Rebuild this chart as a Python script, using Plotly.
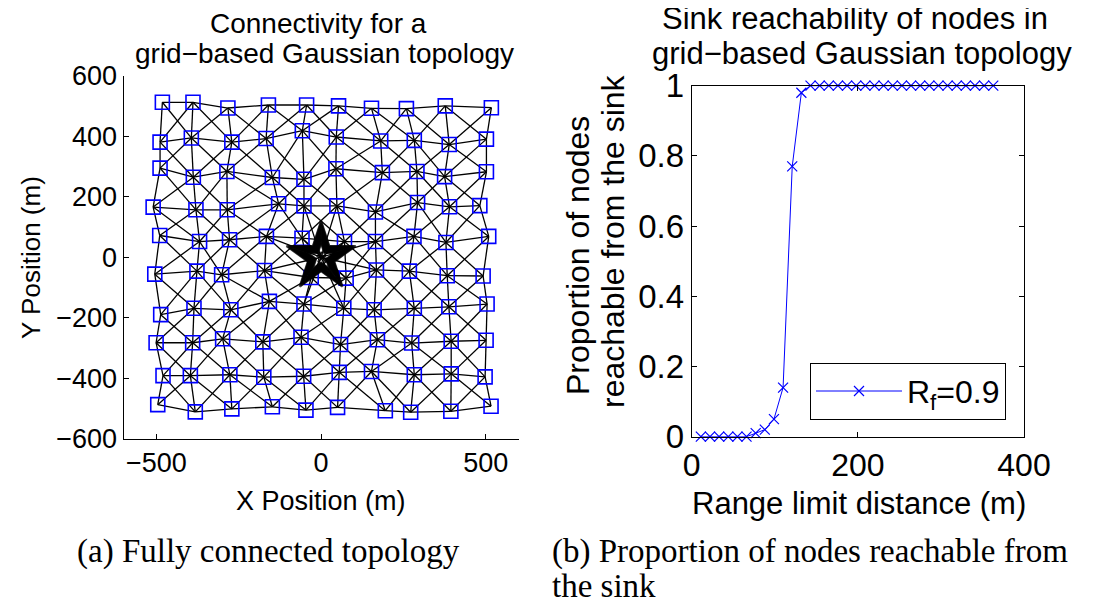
import plotly.graph_objects as go

# ---------------- data: left panel (node positions, rows top->bottom) -------------
NODE_X = [
    [-482, -389, -283, -160, -44, 53, 153, 259, 377, 517],
    [-489, -394, -271, -167, -57, 46, 181, 283, 389, 502],
    [-489, -388, -286, -148, -52, 45, 186, 291, 375, 502],
    [-510, -380, -285, -129, -52, 48, 165, 293, 390, 482],
    [-490, -369, -278, -166, -58, 71, 165, 282, 379, 509],
    [-505, -377, -302, -172, -30, 76, 168, 268, 383, 492],
    [-487, -386, -274, -157, -52, 69, 161, 283, 388, 504],
    [-501, -390, -299, -177, -61, 59, 171, 275, 395, 501],
    [-480, -397, -277, -174, -53, 55, 153, 283, 395, 498],
    [-496, -382, -271, -148, -46, 50, 195, 272, 394, 516],
]
NODE_Y = [
    [513, 513, 494, 504, 504, 501, 493, 492, 501, 495],
    [381, 395, 381, 393, 419, 398, 385, 387, 373, 391],
    [295, 265, 284, 264, 258, 293, 280, 284, 267, 283],
    [166, 157, 157, 177, 170, 170, 150, 181, 167, 171],
    [72, 52, 58, 69, 63, 52, 52, 69, 49, 69],
    [-56, -46, -58, -44, -67, -69, -42, -46, -61, -62],
    [-190, -169, -174, -146, -155, -169, -174, -169, -164, -155],
    [-283, -283, -270, -280, -265, -289, -273, -284, -278, -275],
    [-392, -392, -389, -397, -394, -381, -378, -389, -386, -396],
    [-488, -512, -502, -495, -506, -497, -508, -513, -510, -493],
]
SINK_X = [0]
SINK_Y = [0]
SINK_LINK_RANGE = 185  # m, links drawn from the sink

LEFT_XTICKS = [-500, 0, 500]
LEFT_YTICKS = [-600, -400, -200, 0, 200, 400, 600]

# ---------------- data: right panel -------------
RANGE_LIMIT = [11, 22, 33, 44, 55, 66, 77, 88, 99, 110, 121, 132, 143, 154, 165,
               176, 187, 198, 209, 220, 231, 242, 253, 264, 275, 286, 297, 308,
               319, 330, 341, 352, 363]
REACHABLE = [0, 0, 0, 0, 0, 0, 0.01, 0.02, 0.05, 0.14, 0.77, 0.98, 1, 1, 1,
             1, 1, 1, 1, 1, 1, 1, 1, 1, 1, 1, 1, 1,
             1, 1, 1, 1, 1]
RIGHT_XTICKS = [0, 200, 400]
RIGHT_YTICKS = [0, 0.2, 0.4, 0.6, 0.8, 1]
RIGHT_YTEXT = ["0", "0.2", "0.4", "0.6", "0.8", "1"]

SANS = "Liberation Sans, Arial, Helvetica, sans-serif"
SERIF = "Liberation Serif, Times New Roman, serif"

# page body has an 8px margin: the figure starts at (8, 8) of the window
OFF = 8
W, H = 1110 - OFF, 602 - OFF
def px(X):
    return (X - OFF) / W
def py(Y):
    return 1 - (Y - OFF) / H

# ---------------- build edge list (grid neighbours) -------------
nr, nc = len(NODE_X), len(NODE_X[0])
ex, ey = [], []
def add_edge(r1, c1, r2, c2):
    ex.extend([NODE_X[r1][c1], NODE_X[r2][c2], None])
    ey.extend([NODE_Y[r1][c1], NODE_Y[r2][c2], None])
for r in range(nr):
    for c in range(nc):
        if c + 1 < nc:
            add_edge(r, c, r, c + 1)
        if r + 1 < nr:
            add_edge(r, c, r + 1, c)
            if c + 1 < nc:
                add_edge(r, c, r + 1, c + 1)
            if c - 1 >= 0:
                add_edge(r, c, r + 1, c - 1)
for r in range(nr):
    for c in range(nc):
        dx = NODE_X[r][c] - SINK_X[0]
        dy = NODE_Y[r][c] - SINK_Y[0]
        if (dx * dx + dy * dy) ** 0.5 <= SINK_LINK_RANGE:
            ex.extend([SINK_X[0], NODE_X[r][c], None])
            ey.extend([SINK_Y[0], NODE_Y[r][c], None])

flat_x = [v for row in NODE_X for v in row]
flat_y = [v for row in NODE_Y for v in row]

fig = go.Figure()
fig.add_trace(go.Scatter(x=ex, y=ey, mode="lines", line=dict(color="black", width=1.3),
                         showlegend=False, hoverinfo="skip", xaxis="x", yaxis="y"))
fig.add_trace(go.Scatter(x=flat_x, y=flat_y, mode="markers",
                         marker=dict(symbol="square-open", size=14, color="#0000ff",
                                     line=dict(width=1.6, color="#0000ff")),
                         showlegend=False, xaxis="x", yaxis="y", cliponaxis=False))
# sink: concentric pentagram outlines
star_sizes = [52, 50, 48, 46, 44, 42, 40, 38, 36, 34, 32, 30, 28, 26, 24, 22, 20]
fig.add_trace(go.Scatter(x=SINK_X * len(star_sizes), y=SINK_Y * len(star_sizes), mode="markers",
                         marker=dict(symbol="star-open", size=star_sizes, color="black",
                                     line=dict(width=2.2, color="black")),
                         showlegend=False, xaxis="x", yaxis="y", cliponaxis=False))
fig.add_trace(go.Scatter(x=SINK_X, y=SINK_Y, mode="markers",
                         marker=dict(symbol="star-open", size=8, color="black",
                                     line=dict(width=1, color="black")),
                         showlegend=False, xaxis="x", yaxis="y", cliponaxis=False))

fig.add_trace(go.Scatter(x=RANGE_LIMIT, y=REACHABLE, mode="lines+markers",
                         name="R<sub>f</sub>=0.9",
                         line=dict(color="#0000ff", width=1),
                         marker=dict(symbol="x-thin", size=10, color="#0000ff",
                                     line=dict(width=1.2, color="#0000ff")),
                         xaxis="x2", yaxis="y2", cliponaxis=False))

ax_common = dict(showgrid=False, zeroline=False, showline=True, linecolor="black", linewidth=1,
                 ticks="inside", ticklen=5, tickcolor="black", tickwidth=1)

fig.update_layout(
    width=W, height=H, margin=dict(l=0, r=0, t=0, b=0, autoexpand=False),
    paper_bgcolor="white", plot_bgcolor="white",
    font=dict(family=SANS, color="black"),
    xaxis=dict(domain=[px(123.5), px(518.7)], range=[-600, 600], tickvals=LEFT_XTICKS,
               anchor="y", tickfont=dict(size=27), **ax_common),
    yaxis=dict(domain=[py(438.5), py(76)], range=[-600, 600],
               tickvals=LEFT_YTICKS, anchor="x", tickfont=dict(size=27), **ax_common),
    xaxis2=dict(domain=[px(691.7), px(1024)], range=[0, 400], tickvals=RIGHT_XTICKS,
                anchor="y2", mirror="ticks", tickfont=dict(size=32), **ax_common),
    yaxis2=dict(domain=[py(436.7), py(85.7)], range=[0, 1],
                tickvals=RIGHT_YTICKS, ticktext=RIGHT_YTEXT, anchor="x2", mirror="ticks",
                tickfont=dict(size=33), **ax_common),
    legend=dict(x=px(810), y=py(362.7), xanchor="left", yanchor="top",
                bordercolor="black", borderwidth=1, bgcolor="white",
                font=dict(size=32, family=SANS), itemwidth=86),
)

def ann(text, x, y, size, family=SANS, angle=0, xanchor="center"):
    fig.add_annotation(text=text, x=px(x), y=py(y), xref="paper", yref="paper",
                       showarrow=False, font=dict(size=size, family=family, color="black"),
                       textangle=angle, xanchor=xanchor, yanchor="middle")

# titles
ann("Connectivity for a", 318, 24, 28)
ann("grid\u2212based Gaussian topology", 324, 54, 28)
ann("Sink reachability of nodes in", 855, 19, 31)
ann("grid\u2212based Gaussian topology", 862, 53, 31)
# axis titles
ann("X Position (m)", 321, 501, 27)
ann("Y Position (m)", 31, 258, 26, angle=-90)
ann("Range limit distance (m)", 859, 503, 31)
ann("Proportion of nodes", 578, 256, 32, angle=-90)
ann("reachable from the sink", 613, 241, 32, angle=-90)
# captions
ann("(a) Fully connected topology", 268, 551, 33, family=SERIF)
ann("(b) Proportion of nodes reachable from", 550, 551, 33, family=SERIF, xanchor="left")
ann("the sink", 550, 586, 33, family=SERIF, xanchor="left")

fig.write_html("out.html")
